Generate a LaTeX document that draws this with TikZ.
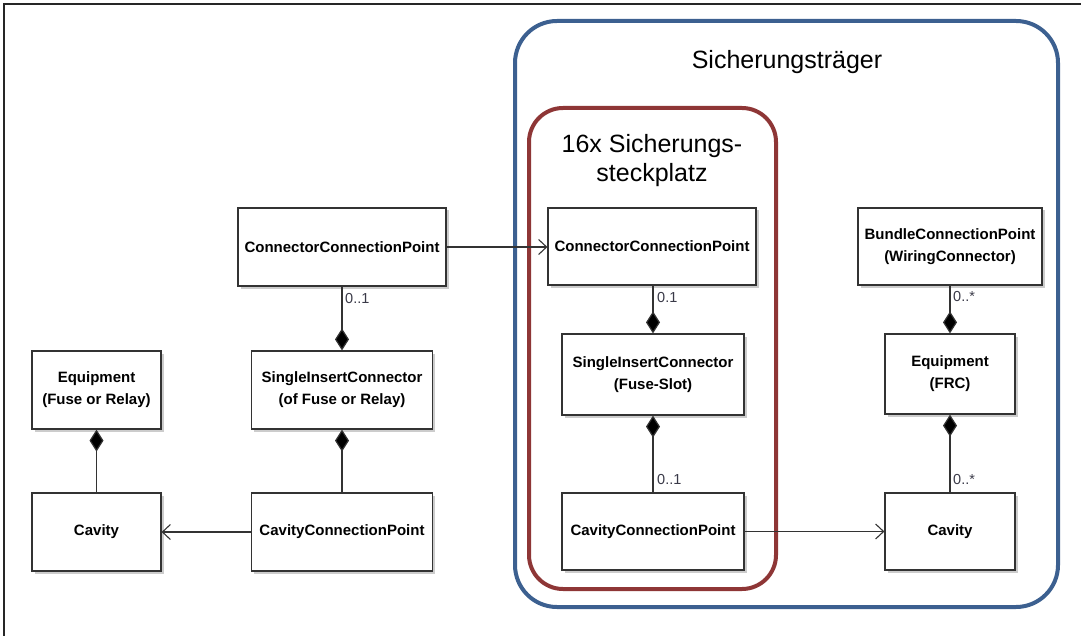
\documentclass[tikz,border=0pt]{standalone}
\usepackage{fontspec}
\setmainfont{Liberation Sans}
\usetikzlibrary{arrows.meta,shadows}
\definecolor{frameblue}{HTML}{3C6090}
\definecolor{framered}{HTML}{8E3636}
\definecolor{boxline}{HTML}{333333}
\definecolor{multcol}{HTML}{3A3A48}
\tikzset{
  umlbox/.style={draw=boxline, line width=1.2pt, fill=white, align=center,
    font=\bfseries\fontsize{15}{22}\selectfont, inner sep=0pt,
    drop shadow={shadow xshift=2.5pt, shadow yshift=-2.5pt, fill=black!25, opacity=0.8}},
  comp/.style={draw=boxline, line width=1.2pt, -{Diamond[length=22pt,width=14pt,fill=black]}},
  assoc/.style={draw=boxline, line width=1.1pt, -{Straight Barb[length=8pt,width=15pt,line width=1.1pt]}},
  mult/.style={font=\fontsize{14.5}{16}\selectfont, text=multcol, anchor=west, inner sep=0pt},
  title/.style={font=\fontsize{25}{29}\selectfont, align=center, inner sep=0pt},
  group/.style={line width=4pt, rounded corners=#1}
}
\begin{document}
\begin{tikzpicture}[x=1pt,y=-1pt]
\useasboundingbox (0,0) rectangle (1081,636);
% outer frame (partially visible)
\draw[line width=1.3pt, black!85] (4,636) -- (4,4) -- (1081,4);
% group frames
\draw[group=42pt, frameblue] (515,21) rectangle (1058,607);
\draw[group=34pt, framered] (529,108) rectangle (776,589);
\node[title] (t1) at (787,62) {Sicherungsträger};
\node[title] (t2) at (652,161) {16x Sicherungs-\\steckplatz};
% left boxes
\node[umlbox, minimum width=208pt, minimum height=78pt] (ccpL) at (342,247) {ConnectorConnectionPoint};
\node[umlbox, minimum width=181pt, minimum height=78pt] (sicL) at (342,390) {SingleInsertConnector\\(of Fuse or Relay)};
\node[umlbox, minimum width=129pt, minimum height=78pt] (eqL) at (96.5,390) {Equipment\\(Fuse or Relay)};
\node[umlbox, minimum width=129pt, minimum height=78pt] (cavL) at (96.5,532) {Cavity};
\node[umlbox, minimum width=181pt, minimum height=78pt] (ccpcL) at (342,532) {CavityConnectionPoint};
% right boxes
\node[umlbox, minimum width=208pt, minimum height=77pt] (ccpR) at (652,246.5) {ConnectorConnectionPoint};
\node[umlbox, minimum width=182pt, minimum height=81pt] (sicR) at (653,374.5) {SingleInsertConnector\\(Fuse-Slot)};
\node[umlbox, minimum width=182pt, minimum height=77pt] (ccpcR) at (653,531.5) {CavityConnectionPoint};
\node[umlbox, minimum width=184pt, minimum height=77pt] (bcp) at (950,246.5) {BundleConnectionPoint\\(WiringConnector)};
\node[umlbox, minimum width=130pt, minimum height=80pt] (eqR) at (950,374) {Equipment\\(FRC)};
\node[umlbox, minimum width=130pt, minimum height=77pt] (cavR) at (950,531.5) {Cavity};
% connectors left
\draw[comp] (ccpL.south) -- (ccpL.south |- sicL.north);
\draw[comp] (ccpcL.north) -- (ccpcL.north |- sicL.south);
\draw[comp] (cavL.north) -- (cavL.north |- eqL.south);
\draw[assoc] (ccpcL.west) -- (cavL.east);
\draw[assoc] (ccpL.east) -- (ccpL.east -| ccpR.west);
% connectors right
\draw[comp] (ccpR.south -| sicR.north) -- (sicR.north);
\draw[comp] (ccpcR.north) -- (sicR.south);
\draw[comp] (bcp.south) -- (eqR.north);
\draw[comp] (cavR.north) -- (eqR.south);
\draw[assoc] (ccpcR.east) -- (ccpcR.east -| cavR.west);
% multiplicities
\node[mult] (m1) at (345,299) {0..1};
\node[mult] (m2) at (657,298) {0.1};
\node[mult] (m3) at (657,480) {0..1};
\node[mult] (m4) at (953,297) {0..*};
\node[mult] (m5) at (953,480) {0..*};
\end{tikzpicture}
\end{document}
